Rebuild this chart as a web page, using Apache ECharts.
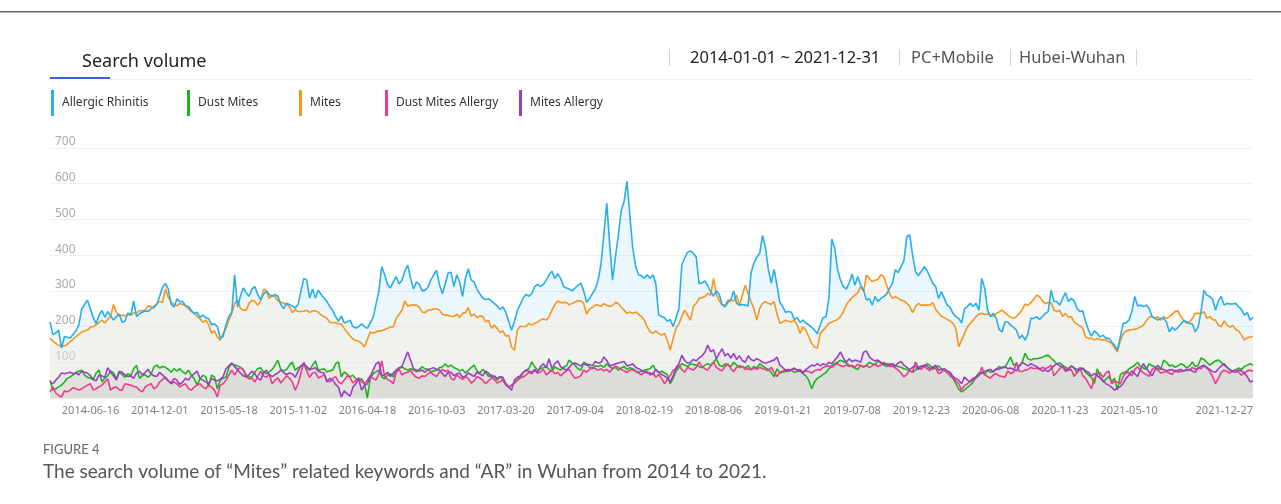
<!DOCTYPE html>
<html>
<head>
<meta charset="utf-8">
<script src="https://cdn.jsdelivr.net/npm/echarts@6/dist/echarts.min.js"></script>
<style>
html, body { margin: 0; padding: 0; background: #fff; }
#chart { width: 1281px; height: 504px; }
</style>
</head>
<body>
<div id="chart"></div>
<script>
// weekly Baidu index values, first week starts 2013-12-30, last 2021-12-27
const firstWeek = '2013-12-30';
const tickLabels = ['2014-06-16','2014-12-01','2015-05-18','2015-11-02','2016-04-18','2016-10-03','2017-03-20','2017-09-04',
    '2018-02-19','2018-08-06','2019-01-21','2019-07-08','2019-12-23','2020-06-08','2020-11-23','2021-05-10','2021-12-27'];
const seriesNames = ['Allergic Rhinitis', 'Dust Mites', 'Mites', 'Dust Mites Allergy', 'Mites Allergy'];

const allergicRhinitis = [
    213,178,182,190,140,172,170,168,178,188, 205,250,262,274,250,225,208,232,245,226,
    242,230,218,228,235,212,215,238,232,272, 228,236,240,244,242,250,256,262,285,310,
    321,305,262,255,278,270,270,258,256,245, 236,240,226,232,225,222,205,208,200,168,
    172,205,228,240,345,255,285,308,295,285, 305,312,290,275,290,300,290,285,290,285,
    262,250,265,262,258,252,262,300,335,330, 280,305,280,302,290,280,270,256,245,228,
    215,230,210,213,218,200,196,200,208,200, 195,210,225,262,300,368,345,318,308,325,
    340,320,330,355,372,335,305,325,318,300, 302,310,330,345,358,318,292,320,350,352,
    312,345,325,284,335,362,330,325,305,292, 280,276,278,272,265,258,248,255,240,215,
    190,215,245,262,280,290,285,292,312,318, 312,318,330,345,355,335,348,335,312,308,
    305,300,308,315,322,300,268,278,292,305, 330,375,460,546,430,330,395,455,525,550,
    607,510,420,368,345,342,335,345,335,345, 320,232,228,225,215,220,200,225,250,373,
    392,408,412,405,395,320,322,328,315,298, 285,300,290,262,255,268,275,300,265,260,
    262,260,258,350,378,394,405,455,420,360, 322,360,315,268,255,240,242,240,220,225,
    212,218,210,205,198,190,180,205,225,228, 280,445,420,360,330,312,305,321,347,316,
    340,316,302,274,279,260,284,270,279,284, 291,307,321,359,351,368,385,452,457,401,
    354,342,354,368,357,340,321,312,279,298, 279,260,254,237,228,223,210,250,256,265,
    256,265,246,335,307,246,228,237,223,192, 185,213,213,204,198,190,167,176,162,181,
    223,223,228,220,228,237,242,302,270,270, 260,279,295,270,279,272,251,242,244,213,
    190,173,188,181,171,176,167,167,157,148, 134,171,209,211,218,242,284,258,260,256,
    260,251,228,223,218,223,223,213,185,198, 190,198,207,216,213,209,207,185,199,242,
    302,288,284,276,246,272,284,260,265,263, 263,265,256,248,232,239,218,226
];
const mites = [
    167,160,153,148,145,146,150,158,165,172, 178,185,188,190,198,200,205,212,218,210,
    220,228,262,240,230,232,230,234,232,238, 238,245,244,246,258,256,252,264,270,268,
    305,282,268,262,258,265,262,258,250,242, 238,228,222,212,218,205,182,188,171,162,
    181,195,218,237,265,274,251,246,246,265, 274,270,260,272,305,300,279,287,284,272,
    268,265,263,256,239,248,242,242,243,246, 239,244,244,240,232,228,223,212,211,211,
    207,207,195,184,174,165,161,159,153,143, 164,185,182,185,188,188,192,195,199,199,
    223,234,246,272,257,260,260,260,254,241, 239,246,246,250,250,246,235,232,232,229,
    228,235,226,237,239,253,229,235,225,230, 228,213,218,195,204,195,183,188,173,176,
    143,134,190,201,200,200,209,204,209,212, 218,222,218,228,246,262,272,267,267,268,
    261,265,269,272,272,265,235,249,254,260, 260,257,264,260,256,259,267,265,254,246,
    237,241,237,241,235,228,218,199,185,181, 188,181,176,181,162,134,167,195,207,228,
    246,232,218,256,265,279,281,284,293,288, 335,290,272,260,260,274,274,272,288,260,
    288,316,293,270,251,218,251,265,270,265, 262,270,236,209,213,218,215,213,218,204,
    181,199,190,171,153,143,140,181,190,199, 209,213,216,220,228,242,260,272,281,288,
    295,312,298,344,335,326,330,332,345,340, 316,293,279,284,279,274,272,265,256,239,
    256,265,260,260,260,260,267,248,239,229, 225,220,216,209,195,143,162,181,199,209,
    218,228,235,237,234,235,232,229,237,241, 246,239,232,226,223,228,237,248,263,260,
    267,277,288,284,272,265,267,267,246,242, 246,228,237,226,228,213,207,202,195,171,
    167,167,162,167,164,162,162,157,153,141, 129,160,179,188,190,192,192,195,199,204,
    216,226,228,223,228,218,228,223,228,235, 242,244,228,218,209,213,223,237,237,237,
    242,223,228,220,218,204,199,216,204,199, 203,192,188,176,162,169,171,172
];
const dustMites = [
    50,22,26,31,36,45,55,59,65,72, 75,78,64,58,55,52,70,78,45,56,
    62,76,70,55,72,66,58,68,62,82, 92,55,62,65,58,66,87,92,84,88,
    86,80,72,82,75,82,73,68,78,64, 54,36,54,64,59,31,64,59,26,50,
    55,59,85,96,92,90,85,80,64,59, 59,73,82,85,73,68,73,80,92,106,
    80,76,80,92,101,78,85,89,92,82, 78,92,104,78,80,82,73,76,78,96,
    101,59,73,66,59,64,54,50,54,40, 0,54,68,73,78,59,54,64,68,59,
    78,82,87,82,78,82,78,73,80,87, 82,80,73,76,78,85,87,96,87,92,
    85,82,76,80,70,78,85,92,76,70, 80,72,60,65,58,50,60,50,40,31,
    35,42,50,55,72,78,82,101,88,78, 82,85,88,80,75,87,82,78,86,90,
    106,98,92,82,78,100,96,86,82,90, 88,92,86,96,88,82,86,78,84,88,
    80,85,82,76,72,75,78,80,82,92, 78,72,75,70,66,40,55,76,85,96,
    92,88,96,94,92,88,85,92,96,92, 100,110,92,88,96,92,88,100,92,85,
    88,84,90,80,88,84,96,90,84,80, 72,59,82,70,72,74,76,78,72,74,
    76,68,62,50,26,45,55,60,66,72, 82,90,96,100,106,102,98,92,88,84,
    80,92,86,90,100,96,92,104,98,92, 88,96,92,90,88,86,82,80,76,72,
    78,86,90,88,96,92,80,86,90,82, 76,72,62,55,40,25,17,22,30,36,
    45,60,70,72,66,78,72,76,80,88, 84,86,100,115,92,96,88,100,125,110,
    106,110,110,112,114,118,120,112,104,96, 98,92,86,82,90,84,70,80,82,72,
    65,58,40,82,60,45,52,60,45,55, 22,65,72,68,82,86,92,100,88,84,
    80,96,90,88,82,80,106,100,90,92, 86,90,96,92,84,90,101,88,92,112,
    108,100,92,98,104,106,100,92,86,80, 74,78,84,80,88,92,96,92
];
const dustMitesAllergy = [
    17,31,14,7,3,20,17,22,29,26, 22,26,31,36,40,22,26,31,36,45,
    54,22,29,31,23,22,40,38,36,33, 31,22,17,31,36,40,26,31,45,51,
    59,48,40,45,40,31,36,40,26,22, 31,36,40,31,26,36,31,22,3,36,
    40,50,64,78,64,78,87,78,59,54, 55,45,60,75,62,58,66,40,50,56,
    42,52,62,55,45,22,40,70,100,75, 58,70,72,56,60,65,50,45,55,60,
    45,40,50,62,58,42,50,56,45,40, 50,62,55,50,68,104,60,52,48,40,
    72,80,65,70,72,78,65,58,55,62, 60,68,72,65,60,72,80,75,78,55,
    50,65,58,52,60,55,42,48,60,56, 50,40,48,56,52,42,46,50,36,30,
    36,42,50,62,58,65,72,68,78,70, 72,80,65,72,78,68,72,62,70,76,
    80,66,55,58,62,78,72,80,86,82, 78,82,76,80,72,82,90,85,80,76,
    72,78,80,74,70,65,72,75,64,70, 58,66,55,40,52,62,78,82,92,80,
    72,86,82,78,86,101,88,82,78,90, 100,86,80,76,88,96,82,74,86,90,
    88,80,82,78,84,80,86,82,80,76, 86,72,60,72,76,78,74,80,84,78,
    80,72,76,74,70,76,80,78,86,88, 90,86,92,96,90,88,92,88,92,86,
    95,90,88,92,85,90,96,88,92,100, 94,88,90,84,78,70,59,66,78,72,
    101,86,80,88,82,76,88,82,68,72, 80,70,66,56,48,40,22,35,40,48,
    56,58,62,87,65,60,55,65,68,62, 60,58,75,68,72,100,74,75,78,80,
    86,82,84,80,86,82,86,92,62,72, 82,90,74,78,80,60,72,86,62,55,
    40,26,55,66,72,58,70,76,40,46, 45,40,60,76,70,62,80,87,78,70,
    66,60,80,86,78,70,72,74,70,66, 78,72,74,76,80,78,86,80,84,82,
    90,84,74,60,40,55,72,78,74,70, 76,80,72,64,70,76,78,74
];
const mitesAllergy = [
    45,40,50,58,70,68,70,72,68,70, 65,75,72,70,62,52,48,64,62,58,
    85,72,62,50,75,72,65,60,62,55, 70,75,65,72,80,68,62,60,72,65,
    55,48,42,55,50,38,45,55,50,62, 68,75,55,50,45,40,55,50,48,52,
    60,82,90,98,88,80,70,62,60,65, 75,68,55,50,70,78,66,60,65,70,
    78,72,65,70,68,58,75,90,96,88, 80,82,85,75,72,70,45,55,50,38,
    30,3,20,12,5,30,40,54,22,35, 40,60,78,96,101,62,65,72,60,70,
    78,85,88,110,129,106,82,78,76,78, 72,80,82,85,80,78,68,60,72,72,
    62,68,70,58,62,70,65,60,72,68, 62,75,70,58,62,55,60,58,40,30,
    22,50,58,62,72,78,75,72,80,70, 88,96,85,110,82,96,104,88,82,78,
    86,96,98,94,90,96,92,94,90,102, 98,100,115,105,90,92,96,98,100,102,
    90,92,96,86,82,78,72,70,70,66, 80,72,66,62,55,45,62,85,96,120,
    105,98,100,108,104,112,118,128,148,130, 135,110,125,138,118,125,112,125,108,118,
    105,100,118,108,104,110,106,100,98,100, 104,106,115,92,85,78,80,78,82,78,
    76,70,80,86,92,90,96,90,96,92, 100,96,106,115,129,112,100,110,102,106,
    104,100,128,132,115,108,104,106,100,94, 96,92,96,90,98,102,92,86,80,86,
    90,80,88,92,90,82,86,92,78,80, 82,76,72,60,55,50,40,59,50,45,
    52,56,66,70,75,78,80,72,82,80, 86,88,82,84,80,76,90,100,95,90,
    96,92,88,82,76,78,74,82,90,96, 90,86,80,78,90,84,80,82,84,76,
    72,62,68,62,56,50,40,36,30,22, 28,32,40,55,64,76,68,60,80,96,
    84,72,62,78,92,82,80,76,78,80, 74,78,80,76,78,80,75,72,85,88,
    92,86,80,74,72,82,90,96,86,78, 74,72,78,76,70,60,45,48
];

const colors = {
    'Allergic Rhinitis': '#26aeee',
    'Dust Mites': '#1db51d',
    'Mites': '#f7951c',
    'Dust Mites Allergy': '#ee3b8e',
    'Mites Allergy': '#9a3fc4'
};
const values = {
    'Allergic Rhinitis': allergicRhinitis,
    'Dust Mites': dustMites,
    'Mites': mites,
    'Dust Mites Allergy': dustMitesAllergy,
    'Mites Allergy': mitesAllergy
};
const areaFill = {
    'Allergic Rhinitis': 'rgba(28,170,235,0.09)',
    'Mites': 'rgba(246,237,224,0.5)',
    'Dust Mites': 'rgba(200,198,194,0.2)',
    'Dust Mites Allergy': 'rgba(200,198,194,0.2)',
    'Mites Allergy': 'rgba(200,198,194,0.2)'
};

function weeks(n) {
    const out = [];
    const t0 = Date.parse(firstWeek + 'T00:00:00Z');
    for (let i = 0; i < n; i++) out.push(new Date(t0 + i * 7 * 86400000).toISOString().slice(0, 10));
    return out;
}
const days = weeks(allergicRhinitis.length);

const FONT = '"Noto Sans", "Open Sans", sans-serif';
const chart = echarts.init(document.getElementById('chart'));

// area layers first, lines drawn on top
const drawOrder = ['Allergic Rhinitis', 'Mites', 'Dust Mites', 'Dust Mites Allergy', 'Mites Allergy'];
const areaSeries = drawOrder.map(n => ({
    name: n + ' area', type: 'line', data: values[n], symbol: 'none', silent: true, z: 1,
    lineStyle: { width: 0, opacity: 0 }, areaStyle: { color: areaFill[n], opacity: 1 }
}));
const lineOrder = ['Dust Mites', 'Dust Mites Allergy', 'Mites Allergy', 'Mites', 'Allergic Rhinitis'];
const lineSeries = lineOrder.map(n => ({
    name: n, type: 'line', data: values[n], symbol: 'none', z: 3,
    itemStyle: { color: colors[n] }, lineStyle: { width: 1.6, color: colors[n] }
}));

const legendLeft = [51, 187, 299, 385, 519];
const legends = seriesNames.map((n, i) => ({
    data: [n], left: legendLeft[i], top: 90, icon: 'rect', itemWidth: 3, itemHeight: 26,
    padding: 0, selectedMode: false,
    textStyle: { fontSize: 12, color: '#333', fontFamily: FONT, padding: [0, 0, 0, 3] }
}));

const txt = (x, y, s, font, fill) => ({ type: 'text', x, y, style: { text: s, font, fill, verticalAlign: 'middle' } });
const bar = (x, y, w, h, fill) => ({ type: 'rect', shape: { x, y, width: w, height: h }, style: { fill } });

chart.setOption({
    animation: false,
    grid: { left: 50, right: 28, top: 148, bottom: 106 },
    legend: legends,
    xAxis: {
        type: 'category', data: days, boundaryGap: false,
        axisLine: { show: false }, axisTick: { show: false },
        axisLabel: {
            interval: (i, v) => tickLabels.includes(v), align: 'right', margin: 7,
            fontSize: 11, color: '#808080', fontFamily: FONT
        }
    },
    yAxis: {
        type: 'value', min: 0, max: 700, interval: 100,
        axisLine: { show: false }, axisTick: { show: false },
        axisLabel: {
            inside: true, margin: 5, verticalAlign: 'bottom', showMinLabel: false,
            fontSize: 12, color: '#aaa', fontFamily: FONT
        },
        splitLine: { lineStyle: { color: '#f0f0f0' } }
    },
    series: areaSeries.concat(lineSeries),
    graphic: [
        bar(0, 11, 1281, 1.5, '#666'),
        txt(82, 62, 'Search volume', '18px ' + FONT, '#222'),
        bar(50, 77, 60, 2, '#3a62e0'),
        bar(110, 79, 1143, 1, '#eeeeee'),
        bar(669, 49, 1, 17, '#d4d4d4'),
        bar(899, 49, 1, 17, '#d4d4d4'),
        bar(1010, 49, 1, 17, '#d4d4d4'),
        bar(1136, 49, 1, 17, '#d4d4d4'),
        txt(690, 58, '2014-01-01 ~ 2021-12-31', '16.5px ' + FONT, '#222'),
        txt(911, 58, 'PC+Mobile', '16.5px ' + FONT, '#555'),
        txt(1019, 58, 'Hubei-Wuhan', '16.5px ' + FONT, '#555'),
        txt(43, 450, 'FIGURE 4', '13px Lato, ' + FONT, '#666'),
        txt(43, 472, 'The search volume of \u201cMites\u201d related keywords and \u201cAR\u201d in Wuhan from 2014 to 2021.', '19px Lato, ' + FONT, '#555')
    ]
});

window.addEventListener('resize', () => chart.resize());
</script>
</body>
</html>
